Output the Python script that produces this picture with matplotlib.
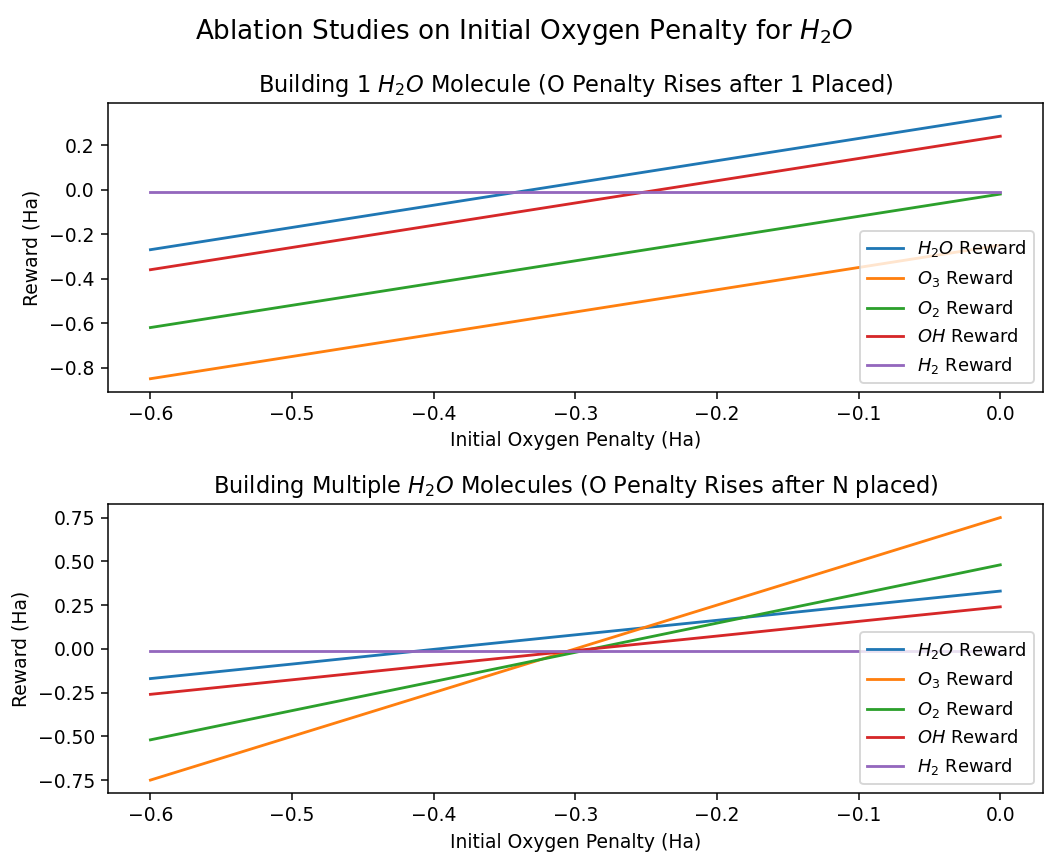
import numpy as np
import matplotlib.pyplot as plt

penalty = [-0.6, -0.5, -0.4, -0.3, -0.2, -0.1, 0.0]

# building 1 H2O molecule
h2o_1 = [-0.27, -0.17, -0.07, 0.03, 0.13, 0.23, 0.33]
o3_1 = [-0.85, -0.75, -0.65, -0.55, -0.45, -0.35, -0.25]
o2_1 = [-0.62, -0.52, -0.42, -0.32, -0.22, -0.12, -0.02]
oh_1 = [-0.36, -0.26, -0.16, -0.06, 0.04, 0.14, 0.24]
h2_1 = [-0.01, -0.01, -0.01, -0.01, -0.01, -0.01, -0.01]

# building multiple H2O molecules
h2o_n = [-0.17, -0.087, -0.003, 0.08, 0.163, 0.247, 0.33]
o3_n = [-0.75, -0.5, -0.25, 0.0, 0.25, 0.5, 0.75]
o2_n = [-0.52, -0.353, -0.187, -0.02, 0.147, 0.313, 0.48]
oh_n = [-0.26, -0.177, -0.093, -0.01, 0.073, 0.157, 0.24]
h2_n = [-0.01, -0.01, -0.01, -0.01, -0.01, -0.01, -0.01]

labels = ['$H_2O$ Reward', '$O_3$ Reward', '$O_2$ Reward', '$OH$ Reward', '$H_2$ Reward']

fig, (ax1, ax2) = plt.subplots(2, 1, figsize=(1048 / 135, 852 / 135), dpi=135)
fig.subplots_adjust(left=0.103, right=0.995, top=0.879, bottom=0.069, hspace=0.39)

for vals, lab in zip([h2o_1, o3_1, o2_1, oh_1, h2_1], labels):
    ax1.plot(penalty, vals, label=lab)
ax1.set_title('Building 1 $H_2O$ Molecule (O Penalty Rises after 1 Placed)', fontsize=12)
ax1.set_xlabel('Initial Oxygen Penalty (Ha)')
ax1.set_ylabel('Reward (Ha)')
ax1.legend(loc='lower right', fontsize=9.5)

for vals, lab in zip([h2o_n, o3_n, o2_n, oh_n, h2_n], labels):
    ax2.plot(penalty, vals, label=lab)
ax2.set_title('Building Multiple $H_2O$ Molecules (O Penalty Rises after N placed)', fontsize=12)
ax2.set_xlabel('Initial Oxygen Penalty (Ha)')
ax2.set_ylabel('Reward (Ha)')
ax2.legend(loc='lower right', fontsize=9.5)

fig.suptitle('Ablation Studies on Initial Oxygen Penalty for $H_2O$', fontsize=14)
plt.savefig('out.png')
